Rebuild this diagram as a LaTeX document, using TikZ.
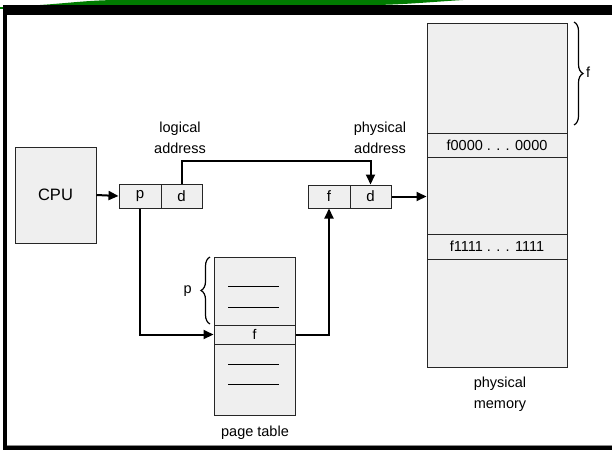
\documentclass[tikz,border=0pt]{standalone}
\usepackage{fontspec}
\setmainfont{Liberation Sans}
\usetikzlibrary{arrows.meta,decorations.pathreplacing,calc}
\definecolor{boxgray}{HTML}{EFEFEF}
\definecolor{slidegreen}{HTML}{007A00}
\tikzset{
  cell/.style={draw=black!85, fill=boxgray, line width=1pt, inner sep=0pt, font=\fontsize{15}{17}\selectfont},
  conn/.style={line width=2pt, -{Triangle[length=10pt,width=9pt]}},
  lbl/.style={align=center, font=\fontsize{14.5}{21}\selectfont, inner sep=0pt},
  bracestyle/.style={decorate, decoration={brace, amplitude=9pt}, line width=1.2pt}
}
\begin{document}
\begin{tikzpicture}[x=1pt,y=-1pt]
\useasboundingbox (0,0) rectangle (612,450);
% slide frame
\fill[slidegreen] (40,5) .. controls (70,3) and (90,0) .. (120,0) -- (463,0) .. controls (430,2) and (400,5) .. (370,5) -- cycle;
\fill[slidegreen] (0,6.5) rectangle (4,9);
\fill[black] (3,5) rectangle (612,15);
\fill[black] (3,5) rectangle (6.5,450);
\fill[black] (3,446) rectangle (612,450);
\draw[black!45, line width=0.8pt] (6.5,445.3) -- (612,445.3);
% CPU
\node[cell, minimum width=81pt, minimum height=96pt, font=\fontsize{16.5}{18}\selectfont] (cpu) at (55.5,195) {CPU};
% logical address
\node[cell, minimum width=42pt, minimum height=24pt] (p) at (140,196) {p};
\node[cell, minimum width=41pt, minimum height=24pt] (d) at (181.5,196) {d};
% physical address
\node[cell, minimum width=42pt, minimum height=23pt] (f2) at (329,196.5) {f};
\node[cell, minimum width=41pt, minimum height=23pt] (d2) at (370.5,196.5) {d};
% page table
\node[cell, minimum width=81pt, minimum height=68pt] (pttop) at (254.5,291) {};
\node[cell, minimum width=81pt, minimum height=19pt, font=\fontsize{14}{16}\selectfont] (ptf) at (254.5,334.5) {f};
\node[cell, minimum width=81pt, minimum height=71pt] (ptbot) at (254.5,379.5) {};
\draw[line width=1pt] (228,286) -- (279,286);
\draw[line width=1pt] (228,307) -- (279,307);
\draw[line width=1pt] (228,364) -- (279,364);
\draw[line width=1pt] (228,384) -- (279,384);
% physical memory
\node[cell, minimum width=140pt, minimum height=110pt] (memtop) at (497,78) {};
\node[cell, minimum width=140pt, minimum height=24pt, font=\fontsize{14.5}{17}\selectfont] (mem0) at (497,145) {f0000 . . . 0000};
\node[cell, minimum width=140pt, minimum height=77pt] (memmid) at (497,195.5) {};
\node[cell, minimum width=140pt, minimum height=25pt, font=\fontsize{14.5}{17}\selectfont] (mem1) at (497,246.5) {f1111 . . . 1111};
\node[cell, minimum width=140pt, minimum height=108pt] (membot) at (497,313) {};
% labels
\node[lbl] (lla) at (180,137.5) {logical\\address};
\node[lbl] (lpa) at (380,137.5) {physical\\address};
\node[lbl] (lpt) at (255,433) {page table};
\node[lbl] (lpm) at (500,394.5) {physical\\memory};
% braces
\draw[bracestyle] (574,22) -- (574,125);
\node[lbl, anchor=west] (lf) at (586,72.5) {f};
\draw[bracestyle] (210,324) -- (210,257);
\node[lbl, anchor=east] (lp) at (192,291) {p};
% connectors
\draw[conn] (cpu.east) -- (p.west);
\draw[conn] (d.north) -- ++(0,-23) -| (d2.north);
\draw[conn] (p.south) |- (ptf.west);
\draw[conn] (ptf.east) -| (f2.south);
\draw[conn] (d2.east) -- (d2.east -| memmid.west);
\end{tikzpicture}
\end{document}
